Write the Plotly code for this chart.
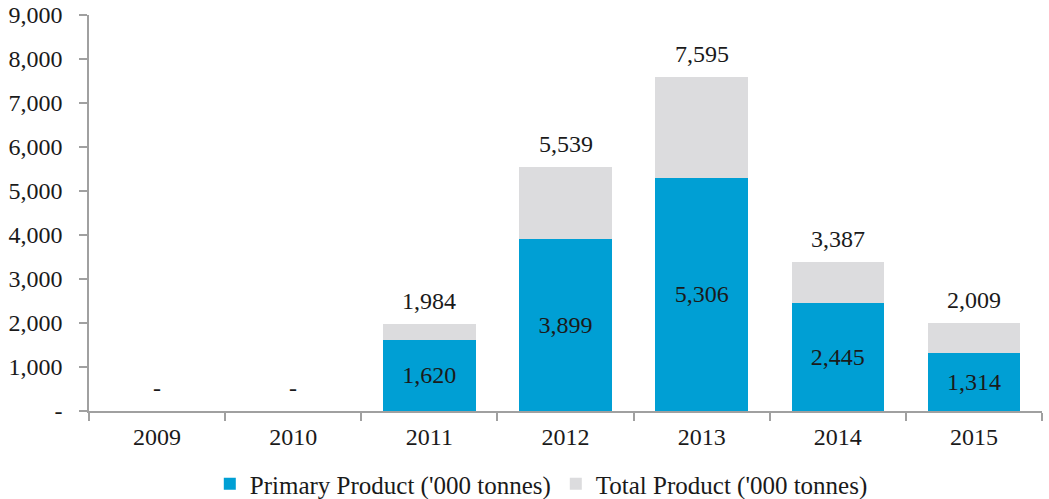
import plotly.graph_objects as go

years = ["2009", "2010", "2011", "2012", "2013", "2014", "2015"]
primary = [0, 0, 1620, 3899, 5306, 2445, 1314]
total = [0, 0, 1984, 5539, 7595, 3387, 2009]
y_ticks = [0, 1000, 2000, 3000, 4000, 5000, 6000, 7000, 8000, 9000]

def fmt(v):
    return "-" if v == 0 else f"{v:,}"

remainder = [t - p for t, p in zip(total, primary)]
font_family = "Liberation Serif"
txt_color = "#1a1a1a"
fs = 24
tfont = dict(family=font_family, size=fs, color=txt_color)

fig = go.Figure()
fig.add_trace(go.Bar(
    x=years, y=primary, name="Primary Product ('000 tonnes)",
    marker=dict(color="#009FD4", line=dict(width=0)),
    text=[fmt(v) if v else "" for v in primary],
    textposition="inside", insidetextanchor="middle",
    textfont=tfont, insidetextfont=tfont,
    hoverinfo="skip",
))
fig.add_trace(go.Bar(
    x=years, y=remainder, name="Total Product ('000 tonnes)",
    marker=dict(color="#DCDCDE", line=dict(width=0)),
    hoverinfo="skip",
))

for i, t in enumerate(total):
    fig.add_annotation(x=i, y=t, xref="x", yref="y", text=fmt(t), showarrow=False,
                       yanchor="middle", yshift=23, font=tfont)

fig.update_layout(
    barmode="stack", bargap=0.32,
    width=1049, height=499,
    margin=dict(l=89, r=7, t=15, b=88, autoexpand=False),
    paper_bgcolor="white", plot_bgcolor="white",
    font=tfont,
    showlegend=True,
    legend=dict(orientation="h", xref="container", yref="container",
                x=0.2, xanchor="left", y=0.03, yanchor="middle",
                font=dict(family=font_family, size=25, color=txt_color),
                traceorder="normal", itemwidth=30),
    xaxis=dict(type="category", range=[-0.5, 6.5], automargin=False,
               showline=True, linecolor="#a0a0a0", linewidth=1.5,
               ticks="outside", tickson="boundaries", ticklen=8, tickcolor="#a0a0a0",
               tickwidth=1.5, showgrid=False, tickangle=0, tickfont=tfont,
               ticklabelstandoff=3),
    yaxis=dict(range=[0, 9000], automargin=False, tickvals=y_ticks, ticktext=[fmt(v) for v in y_ticks],
               showline=True, linecolor="#a0a0a0", linewidth=1.5,
               ticks="outside", ticklen=8, tickcolor="#a0a0a0", tickwidth=1.5,
               showgrid=False, zeroline=False, tickfont=tfont, ticklabelstandoff=12),
)

fig.write_html("out.html")
